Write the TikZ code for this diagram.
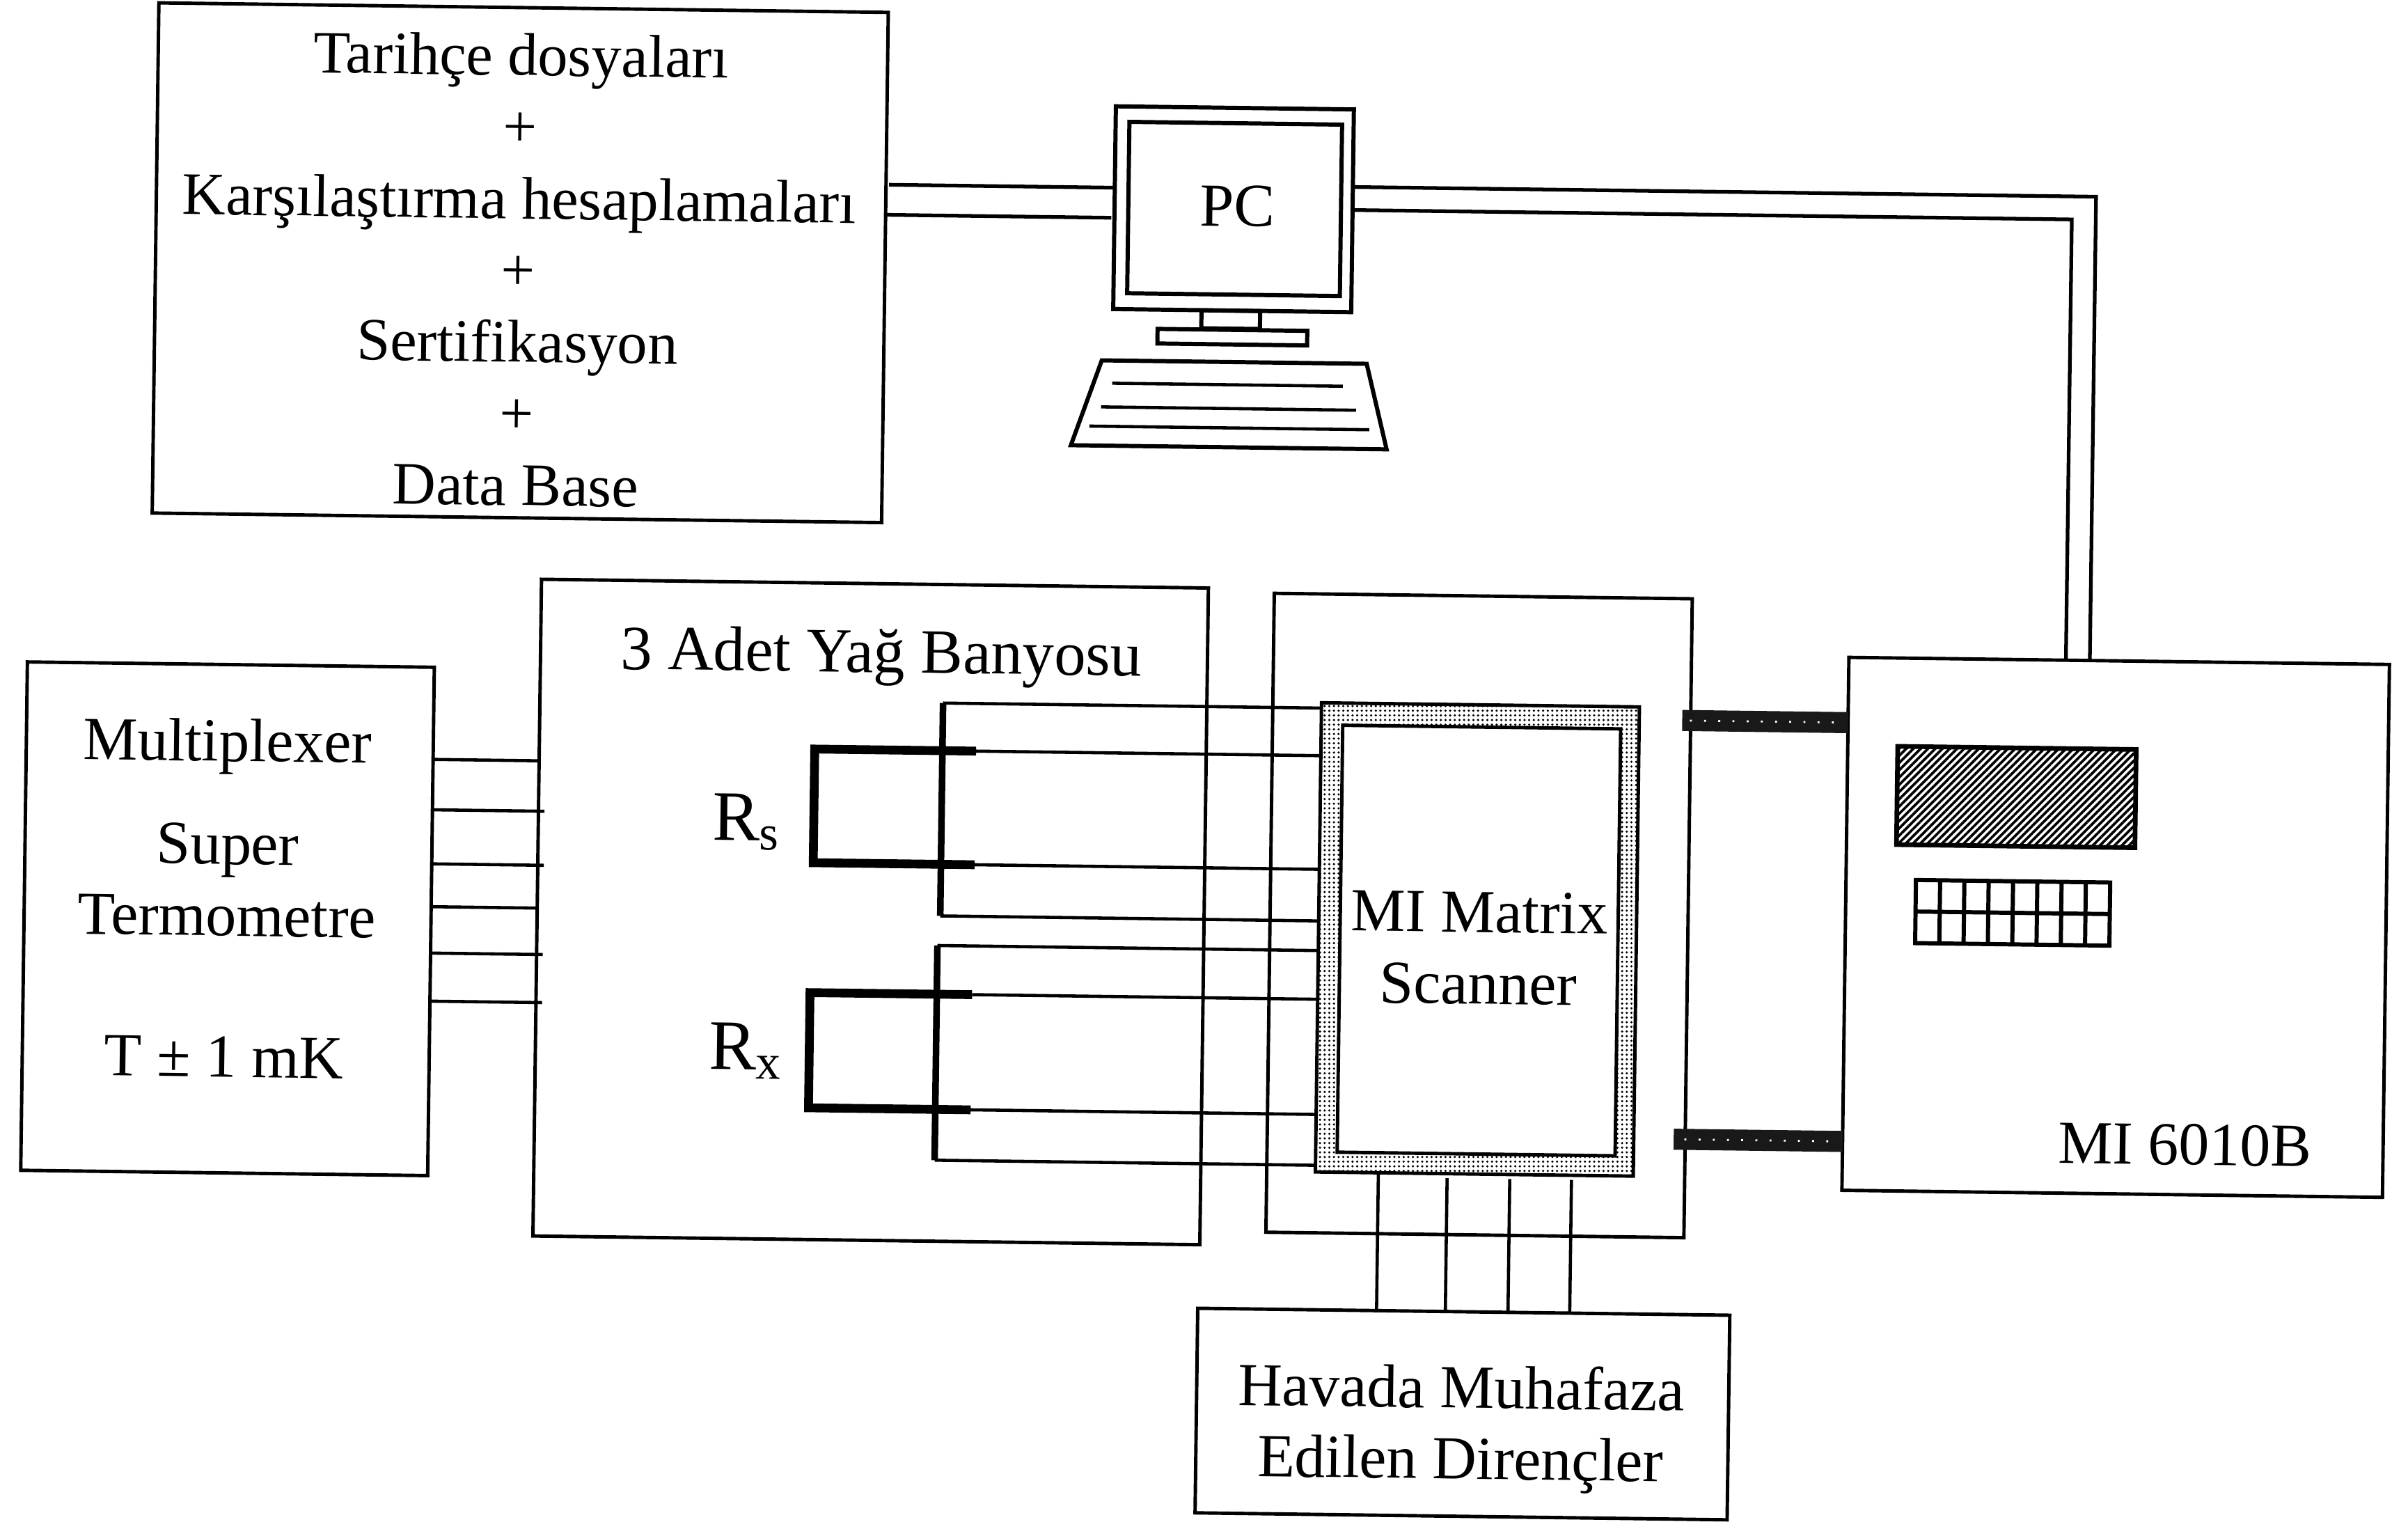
\documentclass[tikz,border=0pt]{standalone}
\usepackage{fontspec}
\setmainfont{Liberation Serif}
\usetikzlibrary{patterns.meta}

\begin{document}
\begin{tikzpicture}[
    x=0.02206cm, y=-0.02206cm,
    font=\fontsize{25}{29.3}\selectfont,
    sized/.style 2 args={minimum width=#1*0.02206cm, minimum height=#2*0.02206cm, inner sep=0pt},
    box/.style={draw, line width=1.4pt},
    part/.style={draw, line width=1.7pt},
    wire/.style={line width=1.3pt},
    pair/.style={line width=1.5pt},
    bus/.style={line width=2.7pt},
    loopwire/.style={line width=3.6pt},
    cable/.style={line width=8.6pt, black!90},
    cablegrain/.style={line width=0.8pt, white, dash pattern=on 0.8pt off 5pt},
    label/.style={align=center, inner sep=0pt},
]

    \useasboundingbox (0,0) rectangle (1568,995.4);

    \begin{scope}[rotate around={-0.75:(784,498)}, transform shape]

    % --- Boxes ---
    \node[box, sized={475}{332.2}] (hist) at (334.5,176.9) {};
    \node[box, sized={265}{331}] (plex) at (149.5,606.5) {};
    \node[box, sized={434.3}{427.6}] (bath) at (568.2,596.6) {};
    \node[box, sized={272.2}{416}] (frame) at (964.4,593.7) {};
    \node[box, sized={352}{347}] (meter) at (1379,596) {};
    \node[box, sized={346.5}{133.2}] (res) at (957.8,918.4) {};

    % --- Computer ---
    \node[part, sized={155}{132}] (monitor) at (798.5,136) {};
    \node[part, sized={138.5}{111.6}] (screen) at (799.2,135.8) {};
    \node[label] (pcname) at (801,134) {PC};
    \node[part, sized={38.2}{11.7}] (neck) at (797.6,207.9) {};
    \node[part, sized={97.5}{9.5}] (stand) at (798.8,219.3) {};
    \draw[part] (714,235.5) -- (886.5,235.5) -- (900.2,291) -- (694.6,291) -- cycle;
    \draw[part, line width=1.3pt] (721,250.3) -- (871.1,250.3);
    \draw[part, line width=1.3pt] (713.9,265.8) -- (880,265.8);
    \draw[part, line width=1.3pt] (706.5,278.4) -- (888.7,278.4);

    % --- Texts ---
    \node[label, font=\fontsize{24.6}{29.3}\selectfont] (histtext) at (333.3,181.5) {Tarihçe dosyaları\\+\\Karşılaştırma hesaplamaları\\+\\Sertifikasyon\\+\\Data Base};
    \node[label] (plexname) at (148,494.3) {Multiplexer};
    \node[label] (super) at (149,581.3) {Super\\Termometre};
    \node[label] (accuracy) at (148.5,696.4) {T ± 1 mK};
    \node[label, font=\fontsize{25.8}{30}\selectfont] (bathname) at (573,430.8) {3 Adet Yağ Banyosu};
    \node[label, font=\fontsize{29}{32}\selectfont] (rs) at (486.5,538.9) {R\textsubscript{s}};
    \node[label, font=\fontsize{29}{32}\selectfont] (rx) at (488,687.9) {R\textsubscript{x}};
    \node[label] (resname) at (956.9,927.8) {Havada Muhafaza\\[-0.3pt]Edilen Dirençler};
    \node[label] (metername) at (1426,737) {MI 6010B};

    % --- Computer links ---
    \coordinate (histA) at (574,123);
    \coordinate (histB) at (572,142.6);
    \coordinate (pcA) at (721,123);
    \coordinate (pcB) at (719,142.6);
    \coordinate (pcC) at (876,120.5);
    \coordinate (pcD) at (876,135.5);
    \coordinate (meterC) at (1360,422.5);
    \coordinate (meterD) at (1344.4,422.5);
    \draw[pair] (histA) -- (pcA);
    \draw[pair] (histB) -- (pcB);
    \draw[pair] (pcC) -- (1360,120.5) -- (meterC);
    \draw[pair] (pcD) -- (1344.4,135.5) -- (meterD);

    % --- Multiplexer lines ---
    \draw[wire] (282,501) -- (352,501);
    \draw[wire] (282,533.8) -- (355,533.8);
    \draw[wire] (282,569) -- (355,569);
    \draw[wire] (282,596.9) -- (352,596.9);
    \draw[wire] (282,627.1) -- (355,627.1);
    \draw[wire] (282,658.4) -- (355,658.4);

    % --- Rs ---
    \coordinate (rsTop) at (613.6,460);
    \coordinate (rsBot) at (613.6,598.6);
    \coordinate (rsA) at (635.5,491);
    \coordinate (rsB) at (635.5,565);
    \draw[bus] (rsTop) -- (rsBot);
    \draw[loopwire] (rsA) -- (530.4,491) -- (530.4,565) -- (rsB);
    \draw[wire] (rsTop) -- (860,460);
    \draw[wire] (rsA) -- (860,491);
    \draw[wire] (rsB) -- (860,565);
    \draw[wire] (rsBot) -- (860,598.6);

    % --- Rx ---
    \coordinate (rxTop) at (612,617.9);
    \coordinate (rxBot) at (612,757.7);
    \coordinate (rxA) at (635,649.6);
    \coordinate (rxB) at (635,724.6);
    \draw[bus] (rxTop) -- (rxBot);
    \draw[loopwire] (rxA) -- (529.4,649.6) -- (529.4,724.6) -- (rxB);
    \draw[wire] (rxTop) -- (860,617.9);
    \draw[wire] (rxA) -- (860,649.6);
    \draw[wire] (rxB) -- (860,724.6);
    \draw[wire] (rxBot) -- (860,757.7);

    % --- Scanner ---
    \node[box, sized={207}{305.5}, pattern={Dots[distance=1.9pt, radius=0.5pt]}] (scanner) at (963.5,609.3) {};
    \node[box, sized={181}{278}, fill=white] (matrix) at (964.5,610) {};
    \node[label] (matrixname) at (964.6,615) {MI Matrix\\Scanner};

    % --- Resistor lines ---
    \draw[wire] (901,762) -- (901,851.8);
    \draw[wire] (945.8,765) -- (945.8,851.8);
    \draw[wire] (986.6,765) -- (986.6,851.8);
    \draw[wire] (1026.8,765) -- (1026.8,851.8);

    % --- Cables ---
    \draw[cable] (1095,465) -- (1203,465);
    \draw[cablegrain] (1100,465) -- (1195,465);
    \draw[cable] (1093,737.7) -- (1203,737.7);
    \draw[cablegrain] (1100,737.7) -- (1195,737.7);

    % --- Meter panel ---
    \node[box, line width=1.9pt, sized={155.3}{64}, pattern={Lines[angle=45, distance=2.1pt, line width=1.05pt]}] (display) at (1313.2,512) {};
    \node[part, sized={126.5}{41.1}] (keys) at (1311.8,587.4) {};
    \draw[part] (1248.5,587.4) -- (1375,587.4);
    \draw[part] (1264.3,566.8) -- (1264.3,607.9);
    \draw[part] (1280.1,566.8) -- (1280.1,607.9);
    \draw[part] (1295.9,566.8) -- (1295.9,607.9);
    \draw[part] (1311.8,566.8) -- (1311.8,607.9);
    \draw[part] (1327.6,566.8) -- (1327.6,607.9);
    \draw[part] (1343.4,566.8) -- (1343.4,607.9);
    \draw[part] (1359.2,566.8) -- (1359.2,607.9);

    \end{scope}

\end{tikzpicture}
\end{document}
